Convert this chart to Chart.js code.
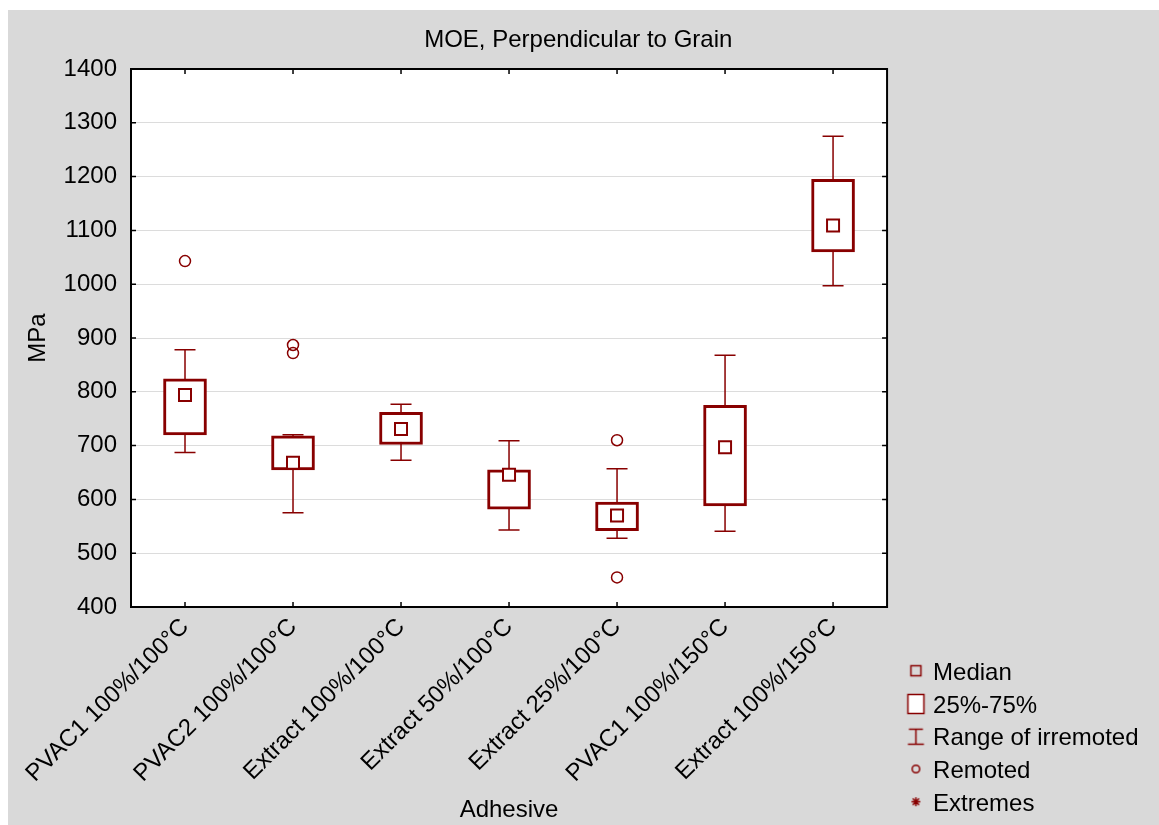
<!DOCTYPE html>
<html>
<head>
<meta charset="utf-8">
<script src="https://cdn.jsdelivr.net/npm/chart.js@4"></script>
<style>
  body { margin: 0; background: #ffffff; }
  #wrap { position: absolute; left: 8px; top: 10px; width: 1151px; height: 815px; }
</style>
</head>
<body>
<div id="wrap"><canvas id="moeChart"></canvas></div>
<script>
// Box plot values (MPa)
const categories = ['PVAC1 100%/100°C', 'PVAC2 100%/100°C', 'Extract 100%/100°C', 'Extract 50%/100°C',
                    'Extract 25%/100°C', 'PVAC1 100%/150°C', 'Extract 100%/150°C'];
const q1Values = [720, 655, 702, 582, 542, 588, 1060];
const q3Values = [824, 718, 762, 655, 595, 775, 1195];
const medianValues = [794, 668, 731, 646, 570, 697, 1109];
const whiskerMin = [687, 575, 673, 543, 528, 541, 997];
const whiskerMax = [878, 720, 777, 709, 657, 868, 1275];
// remoted points (outliers)
const remotedCats = ['PVAC1 100%/100°C', 'PVAC2 100%/100°C', 'PVAC2 100%/100°C', 'Extract 25%/100°C', 'Extract 25%/100°C'];
const remotedValues = [1043, 887, 872, 710, 455];
const yTicks = [400, 500, 600, 700, 800, 900, 1000, 1100, 1200, 1300, 1400];

const RED = '#880000';
Chart.defaults.font.family = '"Liberation Sans", Arial, sans-serif';
Chart.defaults.font.size = 24;
Chart.defaults.color = '#000';

// little canvases used as legend symbols
function legendIcon(draw) {
  const c = document.createElement('canvas');
  c.width = 50; c.height = 30;
  const g = c.getContext('2d');
  g.strokeStyle = RED;
  g.fillStyle = '#fff';
  g.lineWidth = 1.5;
  draw(g, 25 + 7.5, 15 - 2.5); // shifted so the symbol sits where the original has it
  return c;
}
const iconMedian = legendIcon((g, x, y) => { g.strokeRect(x - 5, y - 5, 10, 10); });
const iconBox = legendIcon((g, x, y) => { g.fillRect(x - 8, y - 9, 16, 19); g.strokeRect(x - 8, y - 9, 16, 19); });
const iconRange = legendIcon((g, x, y) => {
  g.beginPath();
  g.moveTo(x - 7, y - 7); g.lineTo(x + 7, y - 7);
  g.moveTo(x, y - 7); g.lineTo(x, y + 8);
  g.moveTo(x - 8, y + 8); g.lineTo(x + 8, y + 8);
  g.stroke();
});
const iconRemoted = legendIcon((g, x, y) => { g.beginPath(); g.arc(x, y, 3.8, 0, Math.PI * 2); g.stroke(); });
const iconExtreme = legendIcon((g, x, y) => {
  g.beginPath();
  for (let k = 0; k < 4; k++) {
    const a = k * Math.PI / 4;
    g.moveTo(x - 4.5 * Math.cos(a), y - 4.5 * Math.sin(a));
    g.lineTo(x + 4.5 * Math.cos(a), y + 4.5 * Math.sin(a));
  }
  g.stroke();
});

// grey page, white plot area
const backgroundPlugin = {
  id: 'background',
  beforeDraw(chart) {
    const {ctx, chartArea: a} = chart;
    ctx.save();
    ctx.fillStyle = '#d9d9d9';
    ctx.fillRect(0, 0, chart.width, chart.height);
    ctx.fillStyle = '#ffffff';
    ctx.fillRect(a.left, a.top, a.right - a.left, a.bottom - a.top);
    ctx.restore();
  }
};

// whiskers (range of irremoted), drawn under the boxes
const whiskerPlugin = {
  id: 'whiskers',
  beforeDatasetsDraw(chart) {
    const {ctx, scales: {x, y}} = chart;
    ctx.save();
    ctx.strokeStyle = RED;
    ctx.lineWidth = 1.5;
    categories.forEach((c, i) => {
      const cx = x.getPixelForValue(i);
      const top = y.getPixelForValue(whiskerMax[i]);
      const bot = y.getPixelForValue(whiskerMin[i]);
      ctx.beginPath();
      ctx.moveTo(cx, top); ctx.lineTo(cx, bot);
      ctx.moveTo(cx - 10.5, top); ctx.lineTo(cx + 10.5, top);
      ctx.moveTo(cx - 10.5, bot); ctx.lineTo(cx + 10.5, bot);
      ctx.stroke();
    });
    ctx.restore();
  }
};

// black frame with inward ticks on all four sides
const framePlugin = {
  id: 'frame',
  afterDraw(chart) {
    const {ctx, chartArea: a, scales: {x, y}} = chart;
    ctx.save();
    ctx.strokeStyle = '#000';
    ctx.lineWidth = 1.5;
    ctx.beginPath();
    yTicks.forEach(v => {
      const py = y.getPixelForValue(v);
      ctx.moveTo(a.left, py); ctx.lineTo(a.left + 5, py);
      ctx.moveTo(a.right, py); ctx.lineTo(a.right - 5, py);
    });
    categories.forEach((c, i) => {
      const px = x.getPixelForValue(i);
      ctx.moveTo(px, a.top); ctx.lineTo(px, a.top + 5);
      ctx.moveTo(px, a.bottom); ctx.lineTo(px, a.bottom - 5);
    });
    ctx.stroke();
    ctx.lineWidth = 2;
    ctx.strokeRect(a.left, a.top, a.right - a.left, a.bottom - a.top);
    ctx.restore();
  }
};

const ctx = document.getElementById('moeChart').getContext('2d');
const moeChart = new Chart(ctx, {
  type: 'bar',
  data: {
    labels: categories,
    datasets: [
      {
        type: 'line',
        label: 'Median',
        data: medianValues,
        showLine: false,
        pointStyle: 'rect',
        pointRadius: 8.5,
        pointBorderWidth: 2,
        pointBorderColor: RED,
        pointBackgroundColor: '#fff',
        order: 1
      },
      {
        type: 'line',
        label: 'Remoted',
        data: remotedCats.map((c, i) => ({x: c, y: remotedValues[i]})),
        showLine: false,
        pointStyle: 'circle',
        pointRadius: 5.5,
        pointBorderWidth: 1.5,
        pointBorderColor: RED,
        pointBackgroundColor: 'rgba(0,0,0,0)',
        order: 1
      },
      {
        label: '25%-75%',
        data: q1Values.map((v, i) => [v, q3Values[i]]),
        backgroundColor: '#fff',
        borderColor: RED,
        borderWidth: 3,
        borderSkipped: false,
        barThickness: 43,
        order: 2
      }
    ]
  },
  options: {
    responsive: true,
    maintainAspectRatio: false,
    animation: false,
    devicePixelRatio: 1,
    layout: { padding: { left: 0, right: 10.5, top: 0, bottom: 0 } },
    plugins: {
      title: {
        display: true,
        text: 'MOE, Perpendicular to Grain',
        font: { size: 24, weight: 'normal' },
        color: '#000',
        padding: { top: 15.6, bottom: 14.6 }
      },
      legend: {
        position: 'right',
        align: 'end',
        labels: {
          usePointStyle: true,
          pointStyleWidth: 25.25,
          padding: 8.75,
          color: '#000',
          font: { size: 24 },
          generateLabels: () => [
            { text: 'Median', pointStyle: iconMedian, fontColor: '#000' },
            { text: '25%-75%', pointStyle: iconBox, fontColor: '#000' },
            { text: 'Range of irremoted', pointStyle: iconRange, fontColor: '#000' },
            { text: 'Remoted', pointStyle: iconRemoted, fontColor: '#000' },
            { text: 'Extremes', pointStyle: iconExtreme, fontColor: '#000' }
          ]
        }
      },
      tooltip: { enabled: false }
    },
    scales: {
      x: {
        grid: { display: false, drawTicks: false },
        border: { display: false },
        ticks: { autoSkip: false, minRotation: 45, maxRotation: 45, padding: 6, color: '#000' },
        title: { display: true, text: 'Adhesive', color: '#000', padding: { top: 0, bottom: 0.6 } },
        afterFit: scale => { scale.height = 218; }
      },
      y: {
        min: 400,
        max: 1400,
        grid: { color: '#dcdcdc', lineWidth: 1, drawTicks: false },
        border: { display: false },
        ticks: { stepSize: 100, padding: 14, color: '#000', callback: value => String(value) },
        title: { display: true, text: 'MPa', color: '#000', padding: { top: 15.6, bottom: 0 } },
        afterFit: scale => { scale.width = 123; }
      }
    }
  },
  plugins: [backgroundPlugin, whiskerPlugin, framePlugin]
});
</script>
</body>
</html>
